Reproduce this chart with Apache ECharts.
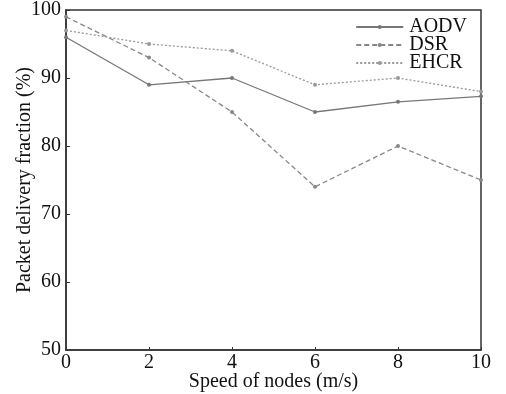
<!DOCTYPE html>
<html><head><meta charset="utf-8">
<script src="https://cdn.jsdelivr.net/npm/echarts@6/dist/echarts.min.js"></script>
<style>html,body{margin:0;padding:0;background:#fff}#c{width:506px;height:394px}</style>
</head><body><div id="c"></div>
<script>
const speeds = [0, 2, 4, 6, 8, 10];
const aodv = [96, 89, 90, 85, 86.5, 87.3];
const dsr = [99, 93, 85, 74, 80, 75];
const ehcr = [97, 95, 94, 89, 90, 88];
const seriesNames = ['AODV', 'DSR', 'EHCR'];

const font = '"Liberation Serif", "Times New Roman", serif';
const chart = echarts.init(document.getElementById('c'), null, {renderer: 'canvas'});
function mk(name, data, color, type) {
  return {
    name, type: 'line', data: speeds.map((s, i) => [s, data[i]]),
    symbol: 'circle', symbolSize: 4, showSymbol: true,
    lineStyle: {color, width: 1.3, type},
    itemStyle: {color},
    animation: false
  };
}
chart.setOption({
  animation: false,
  backgroundColor: '#fff',
  grid: {left: 66, right: 25, top: 10, bottom: 44, show: true, borderColor: '#333', borderWidth: 1.5,
         containLabel: false, outerBoundsMode: 'none'},
  legend: {
    data: seriesNames, orient: 'vertical', right: 34, top: 12, itemGap: -2,
    itemWidth: 47, itemHeight: 5,
    textStyle: {fontFamily: font, fontSize: 20, lineHeight: 18, color: '#111', padding: [0, 0, 0, 1]}
  },
  xAxis: {
    type: 'value', min: 0, max: 10, interval: 2,
    name: 'Speed of nodes (m/s)', nameLocation: 'middle', nameGap: 22, nameMoveOverlap: false,
    nameTextStyle: {fontFamily: font, fontSize: 20, color: '#111'},
    axisLine: {lineStyle: {color: '#333', width: 1.5}},
    axisTick: {inside: true, length: 3, lineStyle: {color: '#333'}},
    axisLabel: {fontFamily: font, fontSize: 20, color: '#111', margin: 3},
    splitLine: {show: false}
  },
  yAxis: {
    type: 'value', min: 50, max: 100, interval: 10,
    name: 'Packet delivery fraction (%)', nameLocation: 'middle', nameGap: 31, nameMoveOverlap: false,
    nameTextStyle: {fontFamily: font, fontSize: 20, color: '#111'},
    axisLine: {show: true, lineStyle: {color: '#333', width: 1.5}},
    axisTick: {show: true, inside: true, length: 4, lineStyle: {color: '#333'}},
    axisLabel: {fontFamily: font, fontSize: 20, color: '#111', margin: 5},
    splitLine: {show: false}
  },
  series: [
    mk('AODV', aodv, '#777', 'solid'),
    mk('DSR', dsr, '#888', [5, 3]),
    mk('EHCR', ehcr, '#999', [2, 2])
  ]
});
</script></body></html>
